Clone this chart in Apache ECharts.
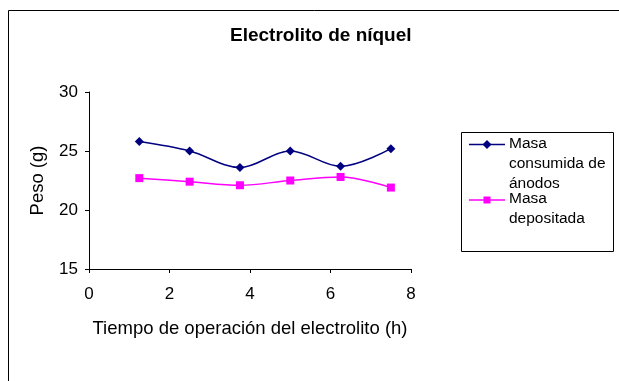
<!DOCTYPE html>
<html>
<head>
<meta charset="utf-8">
<script src="https://cdn.jsdelivr.net/npm/echarts@6/dist/echarts.min.js"></script>
<style>
  html, body { margin: 0; padding: 0; background: #fff; }
  #chart { width: 619px; height: 381px; }
</style>
</head>
<body>
<div id="chart"></div>
<script>
// Operating time of the electrolyte (h)
const tiempo = [1.25, 2.5, 3.75, 5, 6.25, 7.5];
// Mass of anodes consumed (g)
const masaConsumida = [25.8, 25.0, 23.6, 25.0, 23.7, 25.2];
// Mass deposited on the cathode (g)
const masaDepositada = [22.7, 22.4, 22.1, 22.5, 22.8, 21.9];

const serieNombres = ['Masa\nconsumida de\nánodos', 'Masa\ndepositada'];
const serieColores = ['#000080', '#FF00FF'];

const FONT = '"Liberation Sans", Arial, sans-serif';

const chart = echarts.init(document.getElementById('chart'), null, { renderer: 'canvas' });

// Legend drawn as graphic items so the marker sits beside the first text line
function legendItem(i, lineY, symbol) {
  const items = [
    { type: 'line', shape: { x1: 469, y1: lineY, x2: 505, y2: lineY },
      style: { stroke: serieColores[i], lineWidth: 1.5 } }
  ];
  if (symbol === 'diamond') {
    items.push({ type: 'polygon',
      shape: { points: [[487, lineY - 4.5], [491.5, lineY], [487, lineY + 4.5], [482.5, lineY]] },
      style: { fill: serieColores[i] } });
  } else {
    items.push({ type: 'rect', shape: { x: 483.5, y: lineY - 3.5, width: 7, height: 7 },
      style: { fill: serieColores[i] } });
  }
  items.push({ type: 'text', x: 509, y: lineY - 11,
    style: { text: serieNombres[i], font: '15.5px ' + FONT, fill: '#000',
      lineHeight: 20, textVerticalAlign: 'top', textAlign: 'left' } });
  return items;
}

const option = {
  animation: false,
  backgroundColor: '#fff',
  title: {
    text: 'Electrolito de níquel',
    left: 230,
    top: 26,
    padding: 0,
    textStyle: { fontFamily: FONT, fontSize: 19, fontWeight: 'bold', color: '#000' }
  },
  grid: { left: 89, right: 208, top: 92, bottom: 112, containLabel: false },
  xAxis: {
    type: 'value',
    min: 0, max: 8, interval: 2,
    name: 'Tiempo de operación del electrolito (h)',
    nameLocation: 'middle',
    nameGap: 50,
    nameTextStyle: { fontFamily: FONT, fontSize: 18.5, color: '#000' },
    axisLine: { show: true, onZero: false, lineStyle: { color: '#000', width: 1 } },
    axisTick: { show: true, length: 4, lineStyle: { color: '#000' } },
    axisLabel: { margin: 17, fontFamily: FONT, fontSize: 17, color: '#000' },
    splitLine: { show: false }
  },
  yAxis: {
    type: 'value',
    min: 15, max: 30, interval: 5,
    name: 'Peso (g)',
    nameLocation: 'middle',
    nameGap: 42,
    nameRotate: 90,
    nameTextStyle: { fontFamily: FONT, fontSize: 18.5, color: '#000' },
    axisLine: { show: true, lineStyle: { color: '#000', width: 1 } },
    axisTick: { show: true, length: 4, lineStyle: { color: '#000' } },
    axisLabel: { margin: 11, fontFamily: FONT, fontSize: 17, color: '#000' },
    splitLine: { show: false }
  },
  series: [
    {
      name: serieNombres[0],
      type: 'line',
      smooth: 0.35,
      symbol: 'diamond',
      symbolSize: 9,
      data: tiempo.map((t, i) => [t, masaConsumida[i]]),
      lineStyle: { color: serieColores[0], width: 1.5 },
      itemStyle: { color: serieColores[0] }
    },
    {
      name: serieNombres[1],
      type: 'line',
      smooth: 0.35,
      symbol: 'rect',
      symbolSize: 8,
      data: tiempo.map((t, i) => [t, masaDepositada[i]]),
      lineStyle: { color: serieColores[1], width: 1.5 },
      itemStyle: { color: serieColores[1] }
    }
  ],
  graphic: [
    // chart outer frame (continues past the right and bottom edges)
    { type: 'rect', shape: { x: 8.5, y: 10.5, width: 700, height: 500 },
      style: { fill: null, stroke: '#000', lineWidth: 1 }, z: 10 },
    // legend frame
    { type: 'rect', shape: { x: 461.5, y: 132.5, width: 152, height: 119 },
      style: { fill: '#fff', stroke: '#000', lineWidth: 1 } },
    ...legendItem(0, 144.5, 'diamond'),
    ...legendItem(1, 200, 'rect')
  ]
};

chart.setOption(option);
</script>
</body>
</html>
